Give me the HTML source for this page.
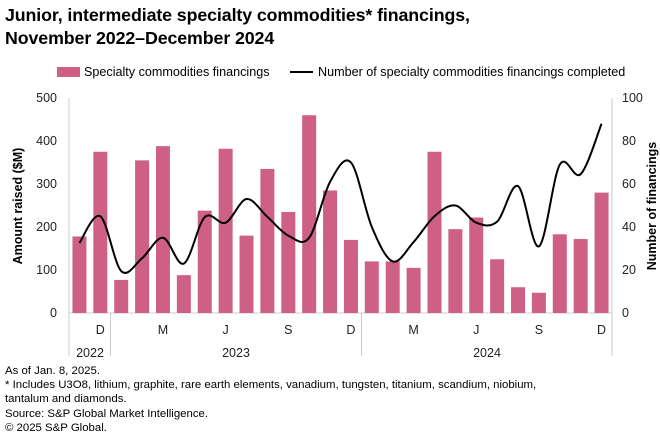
<!DOCTYPE html>
<html><head><meta charset="utf-8"><style>
body{margin:0;background:#fff;width:660px;height:447px;overflow:hidden;font-family:"Liberation Sans",sans-serif;color:#000}
.t{position:absolute;left:5px;top:4px;font-size:17.8px;font-weight:bold;line-height:23px;letter-spacing:-0.1px}
.f{position:absolute;left:5px;top:364px;font-size:11.4px;line-height:14.2px}
</style></head><body>
<div class="t">Junior, intermediate specialty commodities* financings,<br>November 2022–December 2024</div>
<svg id="c" width="660" height="447" style="position:absolute;left:0;top:0" font-family="Liberation Sans, sans-serif"></svg>
<div class="f">As of Jan. 8, 2025.<br>* Includes U3O8, lithium, graphite, rare earth elements, vanadium, tungsten, titanium, scandium, niobium,<br>tantalum and diamonds.<br>Source: S&amp;P Global Market Intelligence.<br>© 2025 S&amp;P Global.</div>
<script>
const bars=[178,375,77,355,388,88,238,382,180,335,235,460,285,170,120,120,105,375,195,222,125,60,47,183,172,280];
const ln=[32.6,45,19.5,25.5,35,23,44.6,42,53,44.7,36,35,61,70,40,24,33,45,50,42,42.5,59,31,69,64.6,88];
const x0=69,x1=612,y0=313,yt=98,w=(x1-x0)/26,s=(y0-yt)/500;
let h='';
h+=`<line x1="${x0}" y1="${yt}" x2="${x0}" y2="356" stroke="#ccc"/>`;
h+=`<line x1="${x1}" y1="${yt}" x2="${x1}" y2="356" stroke="#ccc"/>`;
h+=`<line x1="${x0}" y1="${y0}" x2="${x1}" y2="${y0}" stroke="#ccc"/>`;
h+=`<line x1="110.5" y1="${y0}" x2="110.5" y2="356" stroke="#ccc"/>`;
h+=`<line x1="361.5" y1="${y0}" x2="361.5" y2="356" stroke="#ccc"/>`;
for(let i=0;i<=5;i++){const y=y0-i*100*s;
h+=`<text x="57" y="${y+4}" font-size="12.5" text-anchor="end" fill="#222">${i*100}</text>`;
h+=`<text x="622" y="${y+4}" font-size="12.5" fill="#222">${i*20}</text>`;}
bars.forEach((v,i)=>{const cx=x0+w*(i+.5);h+=`<rect x="${cx-7}" y="${y0-v*s}" width="14" height="${v*s}" fill="#cf6085"/>`;});
const P=ln.map((v,i)=>[x0+w*(i+.5),y0-v*5*s]);
let d=`M${P[0][0]},${P[0][1]}`;
for(let i=0;i<P.length-1;i++){const p0=P[Math.max(0,i-1)],p1=P[i],p2=P[i+1],p3=P[Math.min(P.length-1,i+2)];
d+=` C${p1[0]+(p2[0]-p0[0])/6},${p1[1]+(p2[1]-p0[1])/6} ${p2[0]-(p3[0]-p1[0])/6},${p2[1]-(p3[1]-p1[1])/6} ${p2[0]},${p2[1]}`;}
h+=`<path d="${d}" fill="none" stroke="#000" stroke-width="2"/>`;
const ml={1:'D',4:'M',7:'J',10:'S',13:'D',16:'M',19:'J',22:'S',25:'D'};
for(const k in ml)h+=`<text x="${x0+w*(+k+.5)}" y="334" font-size="12.5" text-anchor="middle" fill="#222">${ml[k]}</text>`;
h+=`<text x="90" y="357" font-size="12.5" text-anchor="middle" fill="#222">2022</text>`;
h+=`<text x="236" y="357" font-size="12.5" text-anchor="middle" fill="#222">2023</text>`;
h+=`<text x="487" y="357" font-size="12.5" text-anchor="middle" fill="#222">2024</text>`;
h+=`<text transform="translate(22,206) rotate(-90)" font-size="12.5" font-weight="bold" text-anchor="middle">Amount raised ($M)</text>`;
h+=`<text transform="translate(656,206) rotate(-90)" font-size="12.5" font-weight="bold" text-anchor="middle">Number of financings</text>`;
h+=`<rect x="57" y="67" width="23" height="10" fill="#cf6085"/><text x="84" y="76" font-size="12.6">Specialty commodities financings</text>`;
h+=`<line x1="290" y1="72" x2="313" y2="72" stroke="#000" stroke-width="2"/><text x="318" y="76" font-size="12.6">Number of specialty commodities financings completed</text>`;
document.getElementById('c').innerHTML=h;
</script>
</body></html>
